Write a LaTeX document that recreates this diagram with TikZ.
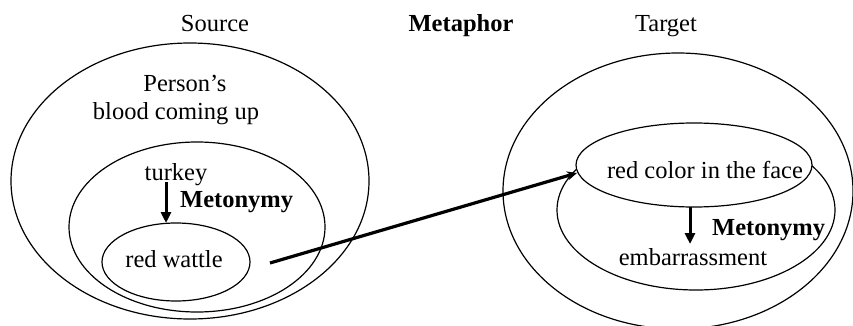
\documentclass[tikz,border=0pt]{standalone}
\usepackage{fontspec}
\setmainfont{Liberation Serif}
\usetikzlibrary{shapes.geometric,arrows.meta}
\begin{document}
\begin{tikzpicture}[x=1pt,y=-1pt,
  oval/.style={draw,ellipse,line width=1.2pt,inner sep=0pt,outer sep=0pt},
  lbl/.style={font=\fontsize{24.5}{29}\selectfont,inner sep=0pt,anchor=base},
  blbl/.style={lbl,font=\fontsize{24.5}{29}\selectfont\bfseries},
  metarrow/.style={line width=3pt,-{Triangle[length=11pt,width=10pt]}},
  bigarrow/.style={line width=3.2pt,-{Stealth[length=10pt,width=9pt]}}]
\useasboundingbox (0,0) rectangle (853,326);
% left ellipses
\node[oval,minimum width=358pt,minimum height=276pt] (lout) at (190,181) {};
\node[oval,minimum width=256pt,minimum height=170pt] (lmid) at (197,227) {};
\node[oval,minimum width=148pt,minimum height=78pt] (lin) at (176,262) {};
% right ellipses
\node[oval,minimum width=350pt,minimum height=276pt] (rout) at (678,191) {};
\node[oval,minimum width=278pt,minimum height=160pt] (rmid) at (696,210) {};
\node[oval,fill=white,minimum width=236pt,minimum height=84pt] (rin) at (694,165) {};
% headings
\node[lbl] (src) at (215,32) {Source};
\node[blbl] (meta) at (461,32) {Metaphor};
\node[lbl] (tgt) at (666,32) {Target};
% left texts
\node[lbl] (person) at (185,92) {Person’s};
\node[lbl] (blood) at (176,119) {blood coming up};
\node[lbl] (turkey) at (176,180) {turkey};
\node[blbl,anchor=base west] (metl) at (180,207) {Metonymy};
\node[lbl] (wattle) at (174,267) {red wattle};
% right texts
\node[lbl] (face) at (705,178) {red color in the face};
\node[blbl,anchor=base west] (metr) at (712,235) {Metonymy};
\node[lbl] (emb) at (693,265) {embarrassment};
% arrows
\coordinate (la) at (166,182);
\draw[metarrow] (la) -- (lin.north -| la);
\coordinate (ra) at (690,207);
\draw[metarrow] (ra) -- (690,244);
\coordinate (mstart) at (270,263);
\coordinate (mend) at (577,173);
\draw[bigarrow] (mstart) -- (mend);
\end{tikzpicture}
\end{document}
